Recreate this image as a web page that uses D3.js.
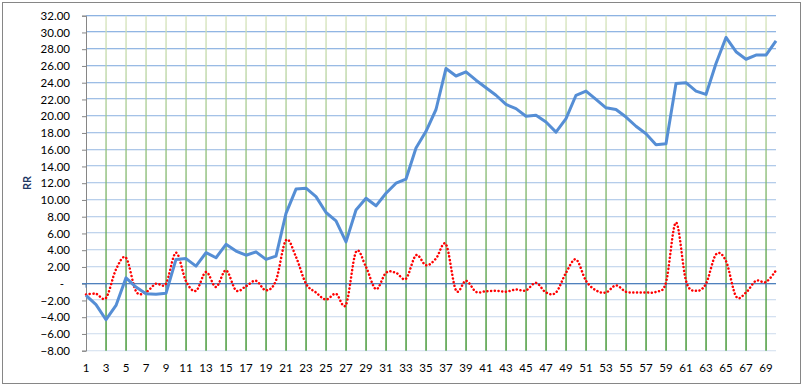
<!DOCTYPE html>
<html>
<head>
<meta charset="utf-8">
<script src="https://cdn.jsdelivr.net/npm/d3@7"></script>
<style>
  body { margin: 0; background: #fff; }
  svg { display: block; }
</style>
</head>
<body>
<svg id="chart" width="803" height="386"></svg>
<script>
// categories 1..70
const categories = d3.range(1, 71);

// blue solid series
const rrValues = [
  -1.4, -2.5, -4.3, -2.6, 0.7, -0.4, -1.2, -1.25, -1.15, 2.9,
  3.0, 2.1, 3.7, 3.1, 4.7, 3.9, 3.4, 3.8, 2.9, 3.3,
  8.4, 11.3, 11.4, 10.4, 8.5, 7.5, 5.0, 8.8, 10.2, 9.3,
  10.8, 12.0, 12.5, 16.2, 18.2, 20.8, 25.7, 24.8, 25.3, 24.3,
  23.4, 22.5, 21.4, 20.9, 20.0, 20.1, 19.3, 18.1, 19.7, 22.5,
  23.0, 22.0, 21.0, 20.8, 19.9, 18.8, 17.9, 16.6, 16.7, 23.9,
  24.0, 23.0, 22.6, 26.3, 29.4, 27.7, 26.8, 27.3, 27.3, 29.0
];

// red dotted smoothed series
const diffValues = [
  -1.3, -1.2, -1.7, 1.7, 3.1, -0.9, -1.0, 0.0, 0.0, 3.7,
  0.3, -0.85, 1.4, -0.4, 1.6, -0.8, -0.3, 0.35, -0.8, 0.4,
  5.2, 3.2, 0.0, -1.05, -1.9, -1.2, -2.5, 3.8, 2.0, -0.65,
  1.3, 1.3, 0.6, 3.4, 2.2, 3.0, 4.7, -0.8, 0.35, -0.97,
  -0.9, -0.85, -0.95, -0.7, -0.8, 0.1, -1.05, -1.05, 1.3, 2.9,
  0.35, -0.8, -1.05, -0.2, -0.97, -1.05, -1.05, -0.97, 0.15, 7.3,
  0.35, -0.85, 0.0, 3.5, 2.7, -1.5, -1.05, 0.35, 0.2, 1.6
];

const yTicks = d3.range(-8, 33, 2);
const xTickLabels = categories.filter(c => c % 2 === 1);

const svg = d3.select("#chart");
const font = "Lato, 'Open Sans', sans-serif";

const plotL = 86, plotR = 776, plotT = 15.7, plotB = 350.7;

const x = d3.scaleLinear().domain([1, 70]).range([plotL, plotR]);
const y = d3.scaleLinear().domain([-8, 32]).range([plotB, plotT]);

// outer frame
svg.append("rect")
    .attr("x", 2.5).attr("y", 2.5)
    .attr("width", 798).attr("height", 381)
    .attr("fill", "#fff")
    .attr("stroke", "#868686");

const defs = svg.append("defs");
const vGrad = defs.append("linearGradient")
    .attr("id", "vgrid")
    .attr("gradientUnits", "userSpaceOnUse")
    .attr("x1", 0).attr("x2", 0).attr("y1", plotT).attr("y2", plotB);
vGrad.append("stop").attr("offset", 0).attr("stop-color", "#d7e4bd");
vGrad.append("stop").attr("offset", 1).attr("stop-color", "#2b8a1c");

const hGrad = defs.append("linearGradient")
    .attr("id", "hgrid")
    .attr("gradientUnits", "userSpaceOnUse")
    .attr("x1", 0).attr("x2", 0).attr("y1", plotT).attr("y2", plotB);
hGrad.append("stop").attr("offset", 0).attr("stop-color", "#8db3e2");
hGrad.append("stop").attr("offset", 1).attr("stop-color", "#dce6f2");

// horizontal gridlines
svg.append("g")
    .selectAll("rect")
    .data(yTicks)
    .join("rect")
    .attr("x", plotL).attr("width", plotR - plotL)
    .attr("y", d => Math.round(y(d)) - 1).attr("height", 1.3)
    .attr("fill", "url(#hgrid)");

// vertical gridlines (odd categories)
svg.append("g")
    .selectAll("rect")
    .data(xTickLabels.filter(c => c > 1))
    .join("rect")
    .attr("x", d => Math.round(x(d)) - 0.6).attr("width", 1.3)
    .attr("y", plotT).attr("height", plotB - plotT)
    .attr("fill", "url(#vgrid)");

// y axis
const yAxis = svg.append("g")
    .attr("transform", `translate(${plotL},0)`)
    .call(d3.axisLeft(y).tickValues(yTicks).tickSize(4).tickPadding(12)
        .tickFormat(d => d === 0 ? "-" : d3.format(".2f")(d)));
yAxis.select(".domain").attr("stroke", "#868686");
yAxis.selectAll(".tick line").attr("stroke", "#868686");
yAxis.selectAll("text")
    .attr("font-family", font).attr("font-size", 11.5).attr("fill", "#000");
yAxis.selectAll(".tick").filter(d => d === 0).select("text").attr("dx", -6);

// zero line (category axis)
svg.append("line")
    .attr("x1", plotL - 4).attr("x2", plotR)
    .attr("y1", y(0)).attr("y2", y(0))
    .attr("stroke", "#4f81bd").attr("stroke-width", 1.3);
svg.append("g")
    .selectAll("line")
    .data(xTickLabels)
    .join("line")
    .attr("x1", d => x(d)).attr("x2", d => x(d))
    .attr("y1", y(0)).attr("y2", y(0) + 4)
    .attr("stroke", "#4f81bd");

// x labels at bottom
svg.append("g")
    .selectAll("text")
    .data(xTickLabels)
    .join("text")
    .attr("x", d => x(d)).attr("y", 372)
    .attr("text-anchor", "middle")
    .attr("font-family", font).attr("font-size", 11.5)
    .attr("fill", "#000")
    .text(d => d);

// axis title
svg.append("text")
    .attr("transform", "translate(31,183) rotate(-90)")
    .attr("text-anchor", "middle")
    .attr("font-family", font).attr("font-size", 11)
    .attr("font-weight", "bold").attr("fill", "#1f3864")
    .text("RR");

// red smoothed dotted line
const redLine = d3.line()
    .x((d, i) => x(categories[i]))
    .y(d => y(d))
    .curve(d3.curveCatmullRom.alpha(0));
svg.append("path")
    .datum(diffValues)
    .attr("d", redLine)
    .attr("fill", "none")
    .attr("stroke", "#ff0000")
    .attr("stroke-width", 2.5)
    .attr("stroke-linecap", "round")
    .attr("stroke-dasharray", "0.1 3.6");

// blue solid line
const blueLine = d3.line()
    .x((d, i) => x(categories[i]))
    .y(d => y(d));
svg.append("path")
    .datum(rrValues)
    .attr("d", blueLine)
    .attr("fill", "none")
    .attr("stroke", "#558ed5")
    .attr("stroke-width", 3)
    .attr("stroke-linejoin", "round");
</script>
</body>
</html>
